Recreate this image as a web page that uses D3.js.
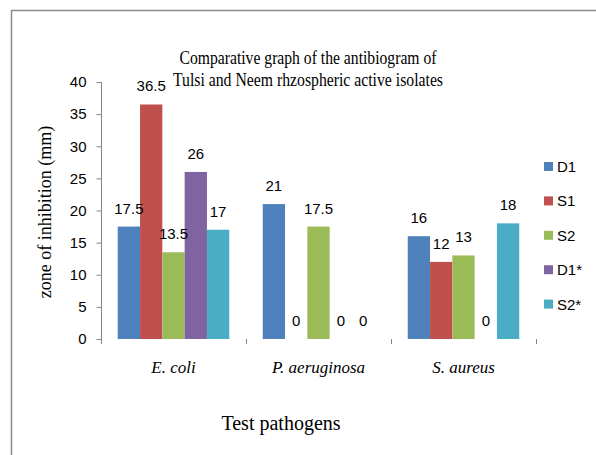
<!DOCTYPE html>
<html>
<head>
<meta charset="utf-8">
<script src="https://cdn.jsdelivr.net/npm/d3@7"></script>
<style>
	body { margin: 0; background: #fff; }
	svg { display: block; }
	.serif { font-family: "Liberation Serif", "Times New Roman", serif; }
	.sans { font-family: "Liberation Sans", Arial, sans-serif; }
</style>
</head>
<body>
<svg id="chart" width="596" height="455"></svg>
<script>
const pathogens = ['E. coli', 'P. aeruginosa', 'S. aureus'];
const series = ['D1', 'S1', 'S2', 'D1*', 'S2*'];
// zone of inhibition (mm) per series, in pathogen order
const valuesD1 = [17.5, 21, 16];
const valuesS1 = [36.5, 0, 12];
const valuesS2 = [13.5, 17.5, 13];
const valuesD1s = [26, 0, 0];
const valuesS2s = [17, 0, 18];
const yTicks = [0, 5, 10, 15, 20, 25, 30, 35, 40];
const colors = ['#4F81BD', '#C0504D', '#9BBB59', '#8064A2', '#4BACC6'];

const seriesValues = [valuesD1, valuesS1, valuesS2, valuesD1s, valuesS2s];
const rows = [];
pathogens.forEach((p, i) => {
	series.forEach((s, j) => rows.push({ pathogen: p, series: s, value: seriesValues[j][i] }));
});

const w = 596;
const h = 455;
const plotLeft = 101, plotRight = 536, plotTop = 82, plotBottom = 339;

const svg = d3.select('#chart');

// outer frame (cut off on the right and bottom)
svg.append('rect')
	.attr('x', 11.5)
	.attr('y', 10.5)
	.attr('width', w)
	.attr('height', h)
	.attr('fill', 'none')
	.attr('stroke', '#8c8c8c')
	.attr('stroke-width', 1.5);

const yScale = d3.scaleLinear()
	.domain([0, 40])
	.range([plotBottom, plotTop]);
const xScale = d3.scaleBand()
	.domain(pathogens)
	.range([plotLeft, plotRight]);
const subScale = d3.scaleBand()
	.domain(series)
	.range([0, xScale.bandwidth()])
	.paddingInner(0)
	.paddingOuter(0.75);
const color = d3.scaleOrdinal()
	.domain(series)
	.range(colors);

// y axis
const yAxis = d3.axisLeft(yScale)
	.tickValues(yTicks)
	.tickSize(5)
	.tickPadding(10);
const gy = svg.append('g')
	.attr('transform', 'translate(' + (plotLeft + 0.5) + ',0)')
	.call(yAxis);
gy.select('.domain').remove();
gy.append('line')
	.attr('x1', 0).attr('x2', 0)
	.attr('y1', plotTop).attr('y2', plotBottom + 5)
	.attr('stroke', '#868686');
gy.selectAll('.tick line').attr('stroke', '#868686');
gy.selectAll('.tick text')
	.attr('class', 'sans')
	.style('font-size', '15px')
	.attr('fill', '#000');

// x axis: category labels + boundary ticks
const xAxis = d3.axisBottom(xScale)
	.tickSize(0)
	.tickPadding(0);
const gx = svg.append('g')
	.attr('transform', 'translate(0,' + plotBottom + ')')
	.call(xAxis);
gx.select('.domain').remove();
gx.selectAll('.tick text')
	.attr('class', 'serif')
	.attr('dy', null)
	.attr('y', 34)
	.style('font-size', '17px')
	.style('font-style', 'italic')
	.attr('fill', '#000');
gx.selectAll('.boundary')
	.data(pathogens.slice(1).concat(['end']))
	.enter()
	.append('line')
	.attr('class', 'boundary')
	.attr('x1', d => Math.round(d === 'end' ? xScale.range()[1] : xScale(d)) + 0.5)
	.attr('x2', d => Math.round(d === 'end' ? xScale.range()[1] : xScale(d)) + 0.5)
	.attr('y1', 0)
	.attr('y2', 5)
	.attr('stroke', '#868686');

// bars
const groups = svg.append('g')
	.selectAll('g')
	.data(pathogens)
	.enter()
	.append('g')
	.attr('transform', d => 'translate(' + xScale(d) + ',0)');

groups.selectAll('rect')
	.data(p => rows.filter(r => r.pathogen === p))
	.enter()
	.append('rect')
	.attr('x', d => subScale(d.series))
	.attr('y', d => yScale(d.value))
	.attr('width', subScale.bandwidth())
	.attr('height', d => yScale(0) - yScale(d.value))
	.attr('fill', d => color(d.series));

groups.selectAll('text')
	.data(p => rows.filter(r => r.pathogen === p))
	.enter()
	.append('text')
	.attr('class', 'sans')
	.attr('x', d => subScale(d.series) + subScale.bandwidth() / 2)
	.attr('y', d => yScale(d.value) - 13)
	.attr('text-anchor', 'middle')
	.style('font-size', '15px')
	.text(d => d.value);

// legend
const legend = svg.append('g')
	.attr('transform', 'translate(544,162)');
const items = legend.selectAll('g')
	.data(series)
	.enter()
	.append('g')
	.attr('transform', (d, i) => 'translate(0,' + (i * 34.4) + ')');
items.append('rect')
	.attr('width', 9)
	.attr('height', 9)
	.attr('fill', d => color(d));
items.append('text')
	.attr('class', 'sans')
	.attr('x', 13)
	.attr('y', 10)
	.style('font-size', '15px')
	.text(d => d);

// title
svg.append('text')
	.attr('class', 'serif')
	.attr('x', 308)
	.attr('y', 64)
	.attr('text-anchor', 'middle')
	.attr('textLength', 257)
	.attr('lengthAdjust', 'spacingAndGlyphs')
	.style('font-size', '19px')
	.text('Comparative graph of the antibiogram of');
svg.append('text')
	.attr('class', 'serif')
	.attr('x', 308)
	.attr('y', 86)
	.attr('text-anchor', 'middle')
	.attr('textLength', 270)
	.attr('lengthAdjust', 'spacingAndGlyphs')
	.style('font-size', '19px')
	.text('Tulsi and Neem rhzospheric active isolates');

// axis titles
svg.append('text')
	.attr('class', 'serif')
	.attr('transform', 'translate(51,212) rotate(-90)')
	.attr('text-anchor', 'middle')
	.style('font-size', '18px')
	.text('zone of inhibition (mm)');

svg.append('text')
	.attr('class', 'serif')
	.attr('x', 281)
	.attr('y', 430)
	.attr('text-anchor', 'middle')
	.style('font-size', '20px')
	.text('Test pathogens');
</script>
</body>
</html>
